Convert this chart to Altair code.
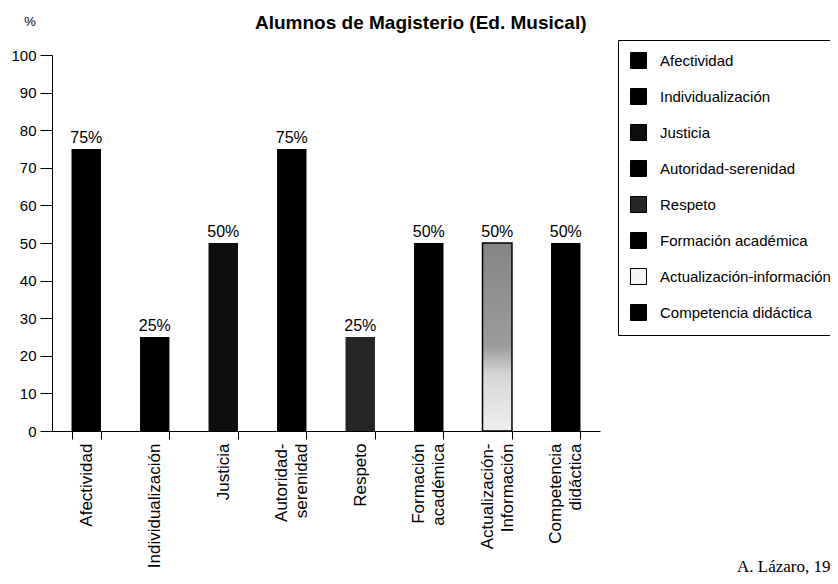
import altair as alt
import pandas as pd

categorias = ["Afectividad", "Individualización", "Justicia", "Autoridad-serenidad",
              "Respeto", "Formación académica", "Actualización-información",
              "Competencia didáctica"]
etiquetas_eje = ["Afectividad", "Individualización", "Justicia", "Autoridad-\nserenidad",
                 "Respeto", "Formación\nacadémica", "Actualización-\nInformación",
                 "Competencia\ndidáctica"]
porcentajes = [75, 25, 50, 75, 25, 50, 50, 50]
colores = ["#000000", "#000000", "#0e0e0e", "#000000", "#262626", "#000000", "#f4f4f4", "#000000"]
valores_eje_y = [0, 10, 20, 30, 40, 50, 60, 70, 80, 90, 100]
titulo = "Alumnos de Magisterio (Ed. Musical)"

df = pd.DataFrame({
    "categoria": categorias,
    "eje": etiquetas_eje,
    "valor": porcentajes,
    "texto": [f"{v}%" for v in porcentajes],
})

FONT = "Liberation Sans"

x_enc = alt.X("eje:N", sort=etiquetas_eje,
              scale=alt.Scale(paddingInner=0.57, paddingOuter=0.285),
              axis=alt.Axis(title=None, labelAngle=270, labelFontSize=17, labelFont=FONT,
                            labelColor="black", tickColor="black", domainColor="black",
                            tickSize=8, labelPadding=4, tickBand="extent",
                            labelExpr="split(datum.label, '\\n')", labelLimit=300,
                            labelLineHeight=20,
                            labelOffset={"condition": {"test": "indexof(datum.label, '\\n') >= 0",
                                                       "value": -10},
                                         "value": 0}))
y_enc = alt.Y("valor:Q", scale=alt.Scale(domain=[0, 100], nice=False),
              axis=alt.Axis(values=valores_eje_y, grid=False, title=None,
                            labelFontSize=15, labelFont=FONT, labelColor="black",
                            tickColor="black", domainColor="black", tickSize=12,
                            labelPadding=4))

base = alt.Chart(df)

bars = base.mark_bar().encode(
    x=x_enc,
    y=y_enc,
    color=alt.Color("categoria:N", sort=categorias,
                    scale=alt.Scale(domain=categorias, range=colores),
                    legend=alt.Legend(title=None, orient="none", legendX=566, legendY=-15,
                                      symbolType="square", symbolSize=256,
                                      symbolStrokeColor="black", symbolStrokeWidth=1,
                                      labelFontSize=15, labelFont=FONT, labelColor="black",
                                      labelOffset=13, rowPadding=15, padding=12,
                                      strokeColor="black", labelLimit=400,
                                      fillColor="white")),
)

grad = base.transform_filter(
    alt.datum.categoria == "Actualización-información"
).mark_bar(
    fill=alt.Gradient(gradient="linear", x1=0, x2=0, y1=0, y2=1,
                      stops=[alt.GradientStop(offset=0, color="#858585"),
                             alt.GradientStop(offset=0.55, color="#9c9c9c"),
                             alt.GradientStop(offset=0.7, color="#d6d6d6"),
                             alt.GradientStop(offset=1, color="#efefef")]),
    stroke="black", strokeWidth=1.5,
).encode(x=x_enc, y=y_enc)

labels = base.mark_text(fontSize=16, font=FONT, color="black", baseline="bottom", dy=-3).encode(
    x=x_enc, y=y_enc, text="texto:N")

uno = base.transform_filter(alt.datum.categoria == "Afectividad")

unidad = uno.mark_text(
    fontSize=13, font=FONT, color="black", align="center", baseline="middle"
).encode(x=alt.value(-22), y=alt.value(-33), text=alt.value("%"))

cabecera = uno.mark_text(
    fontSize=19, font=FONT, fontWeight="bold", color="black", align="left",
    baseline="alphabetic"
).encode(x=alt.value(203), y=alt.value(-26), text=alt.value(titulo))

fuente = uno.mark_text(
    fontSize=17, font="Liberation Serif", color="black", align="left", baseline="alphabetic"
).encode(x=alt.value(685), y=alt.value(517), text=alt.value("A. Lázaro, 1997"))

chart = alt.layer(bars, grad, labels, unidad, cabecera, fuente).properties(
    width=548, height=376,
    autosize=alt.AutoSizeParams(type="none"),
    padding={"left": 44, "top": 47, "right": 230, "bottom": 143},
).configure_view(stroke=None)

chart.save("out.html", embed_options={"renderer": "svg", "actions": False})
